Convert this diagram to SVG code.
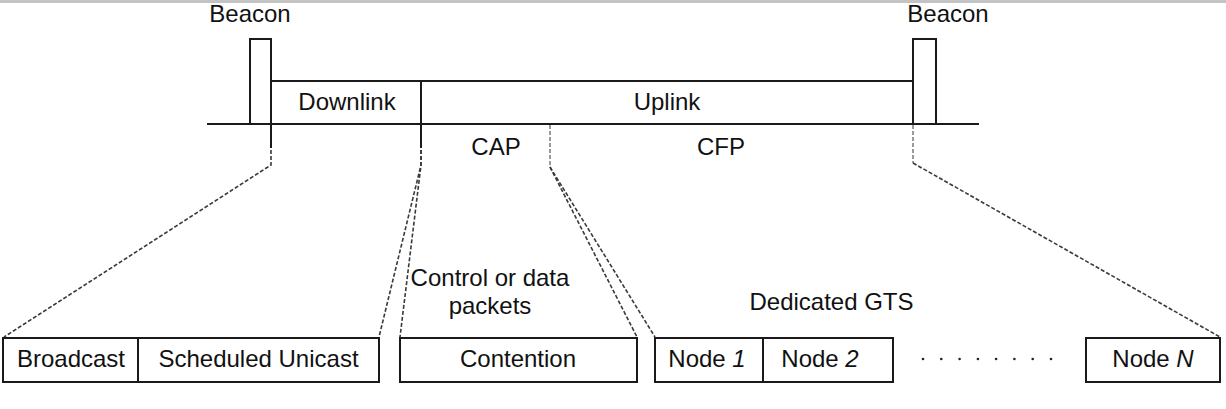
<svg xmlns="http://www.w3.org/2000/svg" width="1226" height="409" viewBox="0 0 1226 409">
<style>
text{font-family:"Liberation Sans",Arial,sans-serif;font-size:24px;fill:#111}
.c{text-anchor:middle}
.box{fill:none;stroke:#1a1a1a;stroke-width:2}
.ln{stroke:#1a1a1a;stroke-width:2;fill:none}
.d{stroke:#3a3a3a;stroke-width:1.6;stroke-dasharray:4 2;fill:none}
.g{stroke:#9a9a9a;stroke-width:2;stroke-dasharray:4 2;fill:none}
i{font-style:italic}
</style>
<rect x="0" y="0" width="1226" height="3" fill="#c3c3c3"/>
<g id="frame">
<line class="ln" x1="207" y1="124" x2="979" y2="124"/>
<line class="ln" x1="271" y1="81" x2="913" y2="81"/>
<line class="ln" x1="421" y1="81" x2="421" y2="148"/>
<line class="ln" x1="271" y1="124" x2="271" y2="148"/>
</g>
<g id="beacon-left">
<rect class="box" x="250" y="39" width="21" height="85" fill="none"/>
<text class="c" x="250" y="22">Beacon</text>
</g>
<g id="beacon-right">
<rect class="box" x="913" y="39" width="23" height="85"/>
<text class="c" x="948" y="22">Beacon</text>
</g>
<g id="downlink"><text class="c" x="347" y="110">Downlink</text></g>
<g id="uplink"><text class="c" x="667" y="110">Uplink</text></g>
<g id="cap"><text class="c" x="496" y="155">CAP</text></g>
<g id="cfp"><text class="c" x="721" y="155">CFP</text></g>
<g id="connectors">
<path class="d" d="M271,150 V165 L4,337"/>
<path class="d" d="M421,150 V165 L379,337"/>
<path class="d" d="M421,150 V165 L400,337"/>
<path class="g" d="M550,125 V167"/>
<path class="d" d="M550,167 L637,337"/>
<path class="d" d="M550,167 L655,337"/>
<path class="g" d="M913,125 V163"/>
<path class="d" d="M913,163 L1220,337"/>
</g>
<g id="broadcast">
<rect class="box" x="3" y="338" width="135" height="44"/>
<text class="c" x="71" y="367">Broadcast</text>
</g>
<g id="unicast">
<rect class="box" x="138" y="338" width="241" height="44"/>
<text class="c" x="258.5" y="367">Scheduled Unicast</text>
</g>
<g id="control-label">
<text class="c" x="490" y="286">Control or data</text>
<text class="c" x="490" y="314">packets</text>
</g>
<g id="contention">
<rect class="box" x="400" y="338" width="237" height="44"/>
<text class="c" x="518" y="367">Contention</text>
</g>
<g id="gts-label"><text class="c" x="831.5" y="310">Dedicated GTS</text></g>
<g id="node1">
<rect class="box" x="655" y="338" width="108" height="44"/>
<text class="c" x="707" y="367">Node <tspan font-style="italic">1</tspan></text>
</g>
<g id="node2">
<rect class="box" x="763" y="338" width="130" height="44"/>
<text class="c" x="820" y="367">Node <tspan font-style="italic">2</tspan></text>
</g>
<g id="dots" fill="#222">
<circle cx="923" cy="359" r="1.3"/><circle cx="941.3" cy="359" r="1.3"/><circle cx="959.6" cy="359" r="1.3"/><circle cx="977.9" cy="359" r="1.3"/><circle cx="996.1" cy="359" r="1.3"/><circle cx="1014.4" cy="359" r="1.3"/><circle cx="1032.7" cy="359" r="1.3"/><circle cx="1051" cy="359" r="1.3"/>
</g>
<g id="nodeN">
<rect class="box" x="1086" y="338" width="134" height="44"/>
<text class="c" x="1153" y="367">Node <tspan font-style="italic">N</tspan></text>
</g>
</svg>
